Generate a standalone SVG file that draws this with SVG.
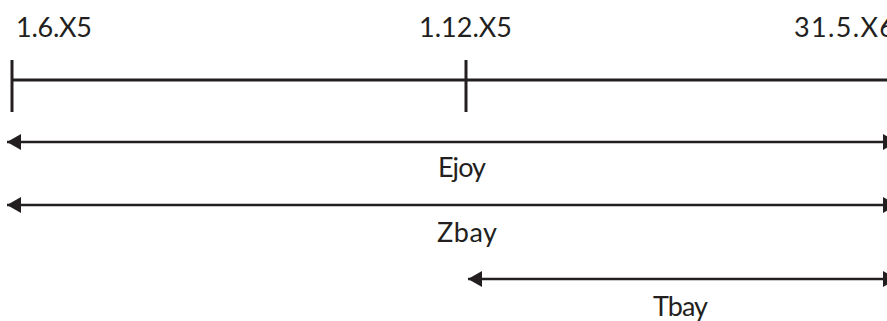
<svg xmlns="http://www.w3.org/2000/svg" width="887" height="321" viewBox="0 0 887 321">
  <style>
    .lbl { font-family: "Lato", "Open Sans", "Liberation Sans", sans-serif; font-size: 27px; fill: #231f20; }
    .axis { stroke: #231f20; stroke-width: 3; fill: none; }
    .dim { stroke: #231f20; stroke-width: 2.6; fill: none; marker-start: url(#headL); marker-end: url(#headR); }
  </style>
  <defs>
    <marker id="headR" markerUnits="userSpaceOnUse" viewBox="0 0 14 16" refX="14" refY="8" markerWidth="14" markerHeight="16" orient="auto">
      <path d="M0,0 L14,8 L0,16 Z" fill="#231f20"/>
    </marker>
    <marker id="headL" markerUnits="userSpaceOnUse" viewBox="0 0 14 16" refX="0" refY="8" markerWidth="14" markerHeight="16" orient="auto">
      <path d="M14,0 L0,8 L14,16 Z" fill="#231f20"/>
    </marker>
  </defs>

  <!-- timeline axis with ticks -->
  <g id="axis">
    <line class="axis" x1="12" y1="80" x2="887" y2="80"/>
    <line class="axis" x1="12" y1="60" x2="12" y2="112"/>
    <line class="axis" x1="466" y1="60" x2="466" y2="112"/>
  </g>

  <g id="tick-labels">
    <text id="t1" class="lbl" x="16" y="37" textLength="76">1.6.X5</text>
    <text id="t2" class="lbl" x="419" y="37" textLength="93">1.12.X5</text>
    <text id="t3" class="lbl" x="794" y="37" textLength="101">31.5.X6</text>
  </g>

  <!-- span arrows -->
  <g id="connectors">
    <line class="dim" x1="7" y1="142" x2="897" y2="142"/>
    <line class="dim" x1="7" y1="205" x2="897" y2="205"/>
    <line class="dim" x1="468" y1="279" x2="897" y2="279"/>
  </g>

  <g id="span-labels">
    <text id="ejoy" class="lbl" x="438" y="177" textLength="48">Ejoy</text>
    <text id="zbay" class="lbl" x="437" y="242" textLength="60">Zbay</text>
    <text id="tbay" class="lbl" x="653" y="316" textLength="55">Tbay</text>
  </g>
</svg>
